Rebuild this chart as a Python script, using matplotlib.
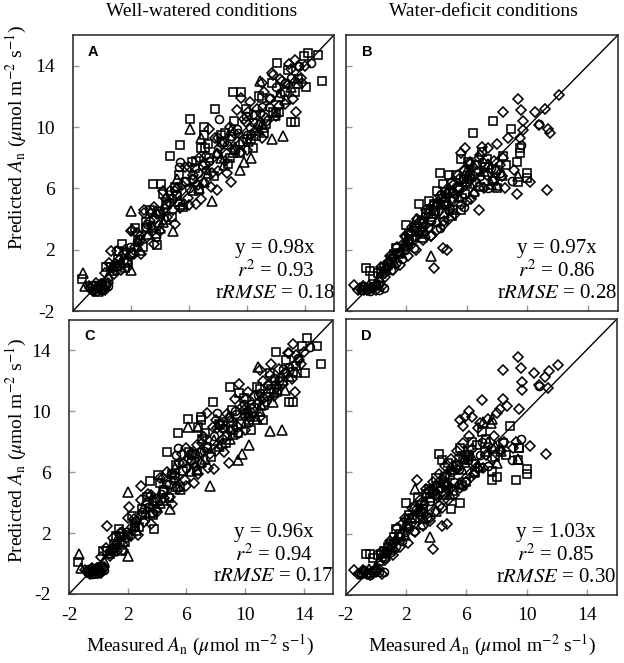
import matplotlib
matplotlib.use("Agg")
import matplotlib.pyplot as plt

plt.rcParams['font.family'] = ['Liberation Serif', 'DejaVu Serif']
plt.rcParams['mathtext.fontset'] = 'stix'
plt.rcParams['axes.unicode_minus'] = False

# ---- well-watered conditions (panels A and C share the measured values) ----
ww_sq_x = [12.1, 14.2, 14.9, 15.2, 9.0, 9.6, 7.8, 6.1, 7.0, 7.0, 6.8, 4.7, 3.5, 4.1, 13.3, 13.0, 14.1, -1.4, 0.3, 1.6,
           1.4, 5.4, 2.5, 3.0, 3.8, 4.5, 5.2, 5.8, 6.5, 7.4, 8.3, 9.2, 10.0, 10.6, 11.2, 11.8, 12.6, 13.5, 8.8, 2.0,
           0.8, -0.6, 10.4, 12.0, 1.1, 4.0,
           0.6, 1.2, 1.8, 2.3, 2.8, 3.3, 3.7, 4.2, 4.8, 5.3, 5.6, 6.2, 6.7, 7.1, 7.7, 8.2, 8.7, 9.1, 9.5, 9.9,
           10.3, 10.8, 11.3, 11.7, 12.2, 12.8, 13.3, 13.9, 3.0, 5.0, 7.3, 9.7, 11.0, 1.5, 4.4, 6.4, 8.5, 10.6, -0.2, 0.2]
ww_sq_a = [14.2, 14.8, 14.7, 13.0, 12.3, 12.3, 11.2, 10.5, 10.0, 9.5, 8.6, 8.1, 6.3, 6.3, 10.3, 10.3, 12.6, 0.1, 0.9, 0.8,
           2.4, 8.8, 2.6, 3.4, 2.3, 5.0, 5.5, 6.4, 7.8, 8.0, 9.0, 8.5, 9.2, 10.8, 9.6, 11.0, 12.3, 13.1, 8.0, 1.8,
           0.6, -0.4, 8.6, 10.9, 1.4, 4.3,
           0.9, 1.9, 1.2, 3.4, 2.2, 4.6, 3.0, 5.6, 4.1, 6.9, 4.8, 7.7, 5.9, 8.6, 6.8, 9.5, 7.6, 10.4, 8.3, 11.2,
           9.2, 12.0, 10.2, 12.9, 11.0, 13.7, 12.3, 14.6, 3.8, 6.1, 8.9, 9.0, 11.9, 1.1, 4.9, 7.3, 9.6, 9.4, -0.4, -0.2]
ww_sq_c = [13.9, 14.8, 14.3, 13.1, 11.6, 11.2, 10.6, 9.5, 9.6, 9.4, 9.0, 7.3, 5.4, 5.8, 10.6, 10.6, 12.5, 0.1, 0.8, 0.8,
           2.3, 8.6, 2.5, 3.2, 2.3, 4.8, 5.6, 6.1, 7.2, 7.6, 9.1, 8.8, 9.8, 10.2, 9.4, 11.5, 12.0, 13.0, 8.4, 1.9,
           0.6, -0.4, 8.8, 11.2, 1.3, 4.1,
           0.8, 1.8, 1.4, 3.1, 2.4, 4.4, 3.2, 5.3, 4.3, 6.5, 5.0, 7.3, 6.1, 8.2, 7.0, 9.2, 7.9, 10.1, 8.6, 10.9,
           9.4, 11.6, 10.4, 12.5, 11.3, 13.4, 12.6, 14.3, 3.6, 5.9, 8.6, 9.2, 11.5, 1.2, 4.7, 7.1, 9.3, 9.6, -0.4, -0.2]

ww_di_x = [8.9, 7.9, 6.8, 13.3, 13.4, 9.6, 11.7, 2.9, 0.6, 1.2, 11.0, 13.0, 7.4, 2.1, -0.8, -0.5, -0.2, 0.1, -0.4, 0.2,
           1.6, 2.6, 3.3, 3.9, 4.4, 4.9, 5.5, 5.9, 6.3, 6.6, 7.1, 7.6, 8.1, 8.5, 9.1, 9.5, 9.9, 10.3, 10.8, 11.3,
           11.6, 12.2, 12.8, 13.7, 14.0, 10.1, 8.0, 5.0, 3.6, 2.3, 6.0, 12.4, 0.9, 1.9,
           0.5, 0.8, 1.0, 1.3, 1.5, 1.7, 2.0, 2.2, 2.4, 2.7, 2.9, 3.1, 3.4, 3.6, 3.8, 4.0, 4.2, 4.5, 4.7, 5.0,
           5.2, 5.4, 5.7, 6.0, 6.2, 6.5, 6.7, 7.0, 7.2, 7.5, 7.8, 8.0, 8.3, 8.6, 8.8, 9.0, 9.3, 9.6, 9.8, 10.0,
           10.2, 10.5, 10.7, 11.0, 11.2, 11.4, 11.8, 12.0, 12.3, 12.6, 12.9, 13.2, 13.5, 13.8, -0.6, -0.3, 0.0, 0.2, -0.9, 0.4]
ww_di_a = [6.4, 5.9, 5.3, 14.4, 11.0, 11.9, 13.5, 4.6, 1.9, 1.3, 12.9, 13.8, 9.9, 3.3, -0.5, -0.6, -0.4, -0.5, -0.2, 0.5,
           2.0, 2.9, 3.9, 3.6, 5.3, 4.6, 6.2, 5.4, 6.9, 6.2, 7.6, 7.0, 8.6, 7.8, 9.6, 8.9, 10.3, 9.5, 10.1, 10.6,
           11.8, 11.4, 12.8, 13.2, 14.0, 11.0, 9.3, 5.8, 4.8, 2.2, 7.4, 13.0, 0.7, 1.6,
           1.1, 0.4, 1.9, 0.7, 1.8, 0.8, 3.2, 1.7, 3.1, 1.7, 4.4, 2.8, 4.4, 2.4, 4.3, 3.2, 5.8, 4.1, 5.8, 3.7,
           6.0, 4.7, 7.4, 4.9, 6.6, 5.0, 8.0, 6.4, 8.1, 6.1, 9.3, 7.1, 8.9, 7.0, 10.0, 8.5, 11.1, 8.4, 10.5, 8.5,
           11.6, 9.7, 11.2, 9.3, 12.3, 10.4, 13.4, 10.7, 13.1, 11.5, 14.1, 11.8, 14.0, 12.9, -0.7, -0.5, -0.3, -0.6, -0.4, -0.2]
ww_di_c = [6.6, 6.2, 5.9, 14.4, 11.3, 11.8, 12.4, 5.1, 2.5, 1.2, 12.7, 13.8, 9.9, 3.7, -0.5, -0.6, -0.4, -0.5, -0.3, 0.4,
           2.1, 2.8, 4.0, 3.5, 5.6, 4.4, 6.6, 5.5, 7.1, 6.4, 7.9, 7.2, 8.9, 8.2, 9.3, 9.0, 10.1, 9.6, 10.5, 10.9,
           11.7, 11.6, 12.6, 13.4, 13.9, 10.8, 9.4, 5.9, 4.5, 2.4, 7.6, 12.2, 0.8, 1.7,
           1.0, 0.5, 1.7, 0.8, 2.0, 0.9, 3.0, 1.8, 2.9, 1.9, 4.2, 2.7, 4.6, 2.6, 4.1, 3.4, 5.6, 4.3, 6.0, 3.9,
           5.8, 4.9, 7.2, 5.1, 6.9, 5.3, 7.8, 6.6, 8.3, 6.3, 9.0, 7.4, 9.1, 7.3, 9.8, 8.7, 10.8, 8.6, 10.3, 8.8,
           11.3, 9.9, 11.0, 9.6, 12.0, 10.6, 13.1, 11.0, 12.8, 11.8, 13.8, 12.1, 13.7, 13.1, -0.7, -0.5, -0.3, -0.6, -0.4, -0.2]

ww_tr_x = [-1.2, -1.3, 2.0, 2.0, 6.1, 7.6, 12.5, 9.5, 10.9, 6.8, 4.9, 11.7, 10.3, 9.8, 3.2, 4.2, 5.6, 7.0, 8.4, 1.3,
           0.4, -0.3, 2.6, 8.9, 12.2, 5.2, 3.7, 11.1, 13.0, 7.9,
           1.0, 1.7, 2.5, 3.5, 4.4, 5.3, 6.3, 7.3, 8.2, 9.2, 10.1, 11.0, 11.9, 12.7, 13.5, 0.0, 4.0, 6.7, 9.0, 10.8]
ww_tr_a = [-0.4, 0.5, 4.5, 0.7, 9.9, 5.2, 9.4, 7.2, 13.0, 9.3, 3.2, 9.2, 8.0, 7.7, 3.0, 3.8, 5.0, 6.4, 7.5, 1.2,
           0.3, -0.7, 2.0, 9.8, 12.0, 6.6, 4.5, 10.0, 12.6, 8.3,
           1.0, 1.4, 2.6, 3.5, 4.0, 5.2, 5.9, 7.0, 8.0, 8.7, 9.1, 10.2, 10.8, 11.8, 12.9, -0.3, 3.4, 6.0, 8.4, 9.8]
ww_tr_c = [-0.3, 0.6, 4.7, 0.5, 9.0, 5.1, 8.8, 6.8, 12.9, 9.0, 3.6, 8.7, 7.8, 7.2, 3.3, 4.0, 4.9, 6.7, 7.9, 1.6,
           0.2, -0.6, 2.2, 9.6, 11.5, 6.3, 4.2, 10.4, 12.3, 8.1,
           0.9, 1.5, 2.5, 3.4, 4.2, 5.1, 6.1, 6.9, 7.7, 8.5, 9.3, 10.0, 10.6, 11.4, 12.6, -0.3, 3.7, 6.2, 8.2, 9.5]

ww_ci_x = [-0.7, -0.3, 0.0, 0.3, -0.5, -0.1, 0.7, 1.5, 2.4, 3.1, 3.7, 4.3, 4.8, 5.3, 6.0, 8.1, 7.2, 8.6, 9.3, 10.2,
           10.9, 11.5, 12.6, 13.6, 5.4, 14.4,
           0.9, 1.9, 2.6, 3.4, 3.9, 4.6, 5.1, 5.7, 6.3, 6.9, 7.4, 7.9, 8.4, 8.9, 9.4, 9.9, 10.4, 11.0, 11.6, 12.3,
           13.0, -0.8, -0.4, -0.1, 0.1, 0.4, 3.0, 6.6, 10.0, 12.0]
ww_ci_a = [-0.6, -0.5, -0.6, -0.3, -0.3, -0.2, 0.8, 1.7, 2.5, 3.7, 2.8, 4.7, 5.4, 7.4, 6.0, 10.5, 7.2, 8.8, 9.9, 10.0,
           10.9, 11.3, 12.9, 14.0, 7.7, 14.2,
           1.1, 2.2, 2.7, 3.6, 4.5, 5.1, 5.6, 6.5, 6.6, 7.5, 7.8, 8.3, 9.0, 9.4, 9.6, 10.7, 10.3, 11.3, 11.9, 12.2,
           13.2, -0.5, -0.7, -0.4, -0.5, -0.4, 3.5, 7.0, 9.5, 12.6]
ww_ci_c = [-0.6, -0.5, -0.6, -0.3, -0.3, -0.2, 0.7, 1.8, 2.4, 3.6, 3.3, 4.6, 5.2, 7.1, 6.3, 9.9, 7.4, 8.9, 10.0, 9.9,
           11.1, 11.0, 12.8, 13.5, 7.6, 14.2,
           1.0, 2.1, 2.8, 3.7, 4.3, 5.2, 5.5, 6.6, 6.8, 7.3, 7.7, 8.4, 8.9, 9.6, 9.8, 10.5, 10.5, 11.2, 11.7, 12.0,
           12.9, -0.5, -0.7, -0.4, -0.5, -0.4, 3.4, 7.2, 9.7, 12.2]

# ---- water-deficit conditions (panels B and D share the measured values) ----
wd_sq_x = [7.7, 8.9, 6.4, 9.5, 9.5, 9.3, 10.0, 10.0, 9.4, 4.2, 4.8, 5.3, 4.4, 5.6, 2.8, 3.5, -0.7, 1.3, 2.0, 5.6,
           5.0, 7.7, 0.3, 0.8, 3.0, 3.9, 4.6, 6.0, 6.6, 7.2, -0.2, 1.6, 2.4, 7.0, 5.9,
           0.5, 1.0, 1.5, 2.1, 2.6, 3.1, 3.6, 4.1, 4.5, 4.9, 5.4, 5.8, 6.2, 6.7, 7.3, 7.9, 8.4, 8.0, 5.1, 3.3,
           2.2, 1.2, 0.1, -0.4, 6.9, 4.0, 3.8, 5.7, 8.6, 6.1]
wd_sq_b = [10.4, 9.9, 9.6, 8.6, 8.3, 7.75, 7.0, 6.7, 6.4, 7.0, 6.9, 6.9, 6.3, 7.9, 5.0, 5.2, 0.8, 2.1, 3.6, 4.6,
           4.2, 6.5, 0.6, 1.0, 3.2, 4.5, 5.4, 6.3, 7.1, 7.4, 0.3, 1.8, 2.6, 8.4, 5.6,
           0.8, 1.4, 1.7, 2.4, 3.2, 3.5, 4.1, 4.9, 5.1, 5.7, 6.0, 6.6, 6.9, 7.5, 7.9, 7.2, 8.1, 6.0, 4.6, 4.4,
           3.0, 1.7, 0.5, 0.6, 6.1, 5.8, 5.0, 5.4, 7.5, 7.7]
wd_sq_d = [6.1, 9.0, 8.0, 7.6, 7.6, 5.5, 5.9, 6.2, 6.8, 7.2, 6.6, 6.5, 6.8, 7.6, 4.4, 4.9, 0.7, 2.3, 4.0, 4.0,
           3.6, 5.5, 0.7, 1.1, 3.4, 4.6, 5.7, 5.4, 6.0, 7.3, 0.4, 2.0, 3.0, 8.6, 6.8,
           0.9, 1.3, 1.8, 2.5, 3.0, 3.6, 4.3, 5.0, 5.3, 5.8, 6.4, 6.9, 7.1, 7.8, 8.2, 7.0, 7.9, 5.7, 4.8, 4.6,
           3.2, 1.8, 0.6, 0.7, 6.3, 5.6, 4.7, 5.2, 7.1, 7.0]

wd_di_x = [12.1, 9.4, 8.4, 9.6, 10.5, 11.2, 9.7, 9.7, 11.4, 11.5, 10.8, 10.2, 11.3, 8.5, 6.8, 4.4, 4.7, 3.8, -1.5, -1.1,
           -0.8, -0.4, 0.0, 0.4, 7.0, 8.4, 8.2, 9.5, 6.2, 6.4, 5.9, 5.6, 5.8, 9.3, 2.7, 1.2, 2.2, 3.2, 4.1, 5.0,
           5.4, 6.3, 7.3, 7.8, 3.6, 4.5, 0.6, 1.8,
           0.3, 0.6, 0.9, 1.1, 1.4, 1.6, 1.9, 2.1, 2.4, 2.6, 2.9, 3.1, 3.3, 3.6, 3.8, 4.0, 4.2, 4.4, 4.6, 4.8,
           5.0, 5.2, 5.4, 5.6, 5.8, 6.0, 6.2, 6.5, 6.8, 7.1, 7.4, 7.7, 8.0, 8.3, 8.7, 9.1, -1.2, -0.9, -0.6, -0.3,
           0.0, 0.2, 3.0, 3.9, 4.7, 5.5, 6.4, 2.0, 1.3, 0.8, 5.1, 4.3, 3.5, 2.7, 6.9]
wd_di_b = [12.1, 11.8, 11.0, 11.1, 11.0, 11.2, 10.4, 9.8, 9.9, 9.6, 10.1, 6.4, 5.9, 6.0, 4.6, 2.1, 2.0, 0.8, -0.3, -0.5,
           -0.6, -0.5, -0.6, -0.4, 8.7, 8.0, 7.5, 9.3, 7.7, 7.4, 8.6, 8.3, 7.1, 5.6, 4.0, 1.5, 2.6, 3.6, 4.9, 5.2,
           6.1, 5.3, 6.9, 7.8, 2.9, 3.9, 0.5, 2.4,
           0.9, 0.2, 1.6, 0.7, 2.2, 1.0, 2.9, 1.6, 3.5, 2.0, 3.9, 2.6, 4.6, 2.9, 5.0, 3.3, 5.5, 3.6, 5.9, 4.0,
           6.4, 4.3, 6.9, 4.9, 7.2, 5.2, 7.6, 5.6, 8.0, 6.0, 8.6, 6.5, 8.9, 6.8, 9.3, 7.2, -0.6, -0.4, -0.6, -0.5,
           -0.4, -0.3, 3.9, 4.8, 5.6, 6.6, 6.9, 2.8, 1.7, 1.2, 6.2, 5.3, 4.6, 3.4, 8.2]
wd_di_d = [13.0, 13.5, 12.7, 12.8, 12.5, 12.2, 11.4, 11.9, 11.5, 12.6, 11.7, 7.7, 7.2, 8.0, 6.3, 2.5, 2.6, 1.0, -0.4, -0.6,
           -0.5, -0.7, -0.5, -0.6, 10.7, 10.8, 10.15, 10.1, 10.0, 9.6, 9.6, 9.4, 9.0, 8.0, 5.5, 1.4, 2.4, 3.3, 4.4, 5.0,
           6.2, 5.7, 7.1, 8.4, 2.8, 4.2, 0.4, 2.7,
           0.8, 0.3, 1.5, 0.6, 2.4, 1.1, 3.0, 1.4, 3.7, 2.1, 4.2, 2.5, 4.9, 3.0, 5.4, 3.5, 5.9, 3.7, 6.4, 4.2,
           6.9, 4.5, 7.4, 5.0, 7.9, 5.4, 8.4, 5.9, 8.9, 6.3, 9.5, 6.9, 9.9, 7.4, 10.3, 7.6, -0.6, -0.4, -0.6, -0.5,
           -0.4, -0.3, 4.0, 5.1, 5.9, 7.0, 7.5, 2.9, 1.6, 1.1, 6.4, 5.5, 4.8, 3.6, 9.2]

wd_tr_x = [9.4, 3.6, 2.6, 7.7, 7.6, 7.1, 0.9, 1.9, 3.0, 4.0, 4.9, 5.7, 6.5, 8.0, -0.9, 0.2, 2.3, 3.4, 4.7, 6.0,
           0.6, 1.2, 1.6, 2.0, 2.8, 3.2, 3.8, 4.3, 5.1, 5.5, 6.3, 6.8, 7.4, 8.3, -0.5, 0.0, 2.5, 4.5, 5.9, 7.9]
wd_tr_b = [6.8, 1.6, 4.0, 6.7, 6.3, 7.1, 1.3, 2.3, 2.8, 3.9, 4.9, 6.5, 5.8, 6.2, -0.4, 0.2, 3.3, 4.4, 5.8, 7.2,
           0.9, 1.2, 1.9, 2.6, 3.3, 3.1, 4.6, 5.1, 5.9, 5.5, 6.8, 6.2, 7.6, 6.9, -0.3, -0.2, 3.5, 4.4, 6.5, 7.3]
wd_tr_d = [6.9, 1.8, 4.9, 9.5, 9.2, 9.3, 1.0, 1.9, 2.6, 3.5, 4.6, 6.2, 6.0, 6.6, -0.5, 0.3, 3.0, 4.7, 5.3, 7.4,
           0.8, 1.1, 2.0, 2.7, 3.5, 3.0, 4.9, 5.4, 6.2, 5.3, 7.1, 6.4, 8.0, 7.4, -0.3, -0.2, 3.8, 4.6, 6.7, 7.7]

wd_ci_x = [3.2, -0.6, -0.2, 0.2, 1.0, 1.7, 2.5, 3.4, 4.2, 4.8, 5.2, 5.8, 6.6, 7.4, 10.8, 9.6, 2.8, 4.3,
           0.4, 0.7, 1.3, 1.9, 2.2, 2.9, 3.6, 3.9, 4.5, 5.0, 5.5, 6.1, 6.9, 7.6, 8.2, -1.0, -0.8, -0.4, 0.0, 0.5,
           3.1, 4.6, 5.9, 7.0, 9.0]
wd_ci_b = [4.2, -0.6, -0.4, -0.6, 0.7, 1.4, 2.1, 3.5, 3.4, 4.5, 5.6, 4.8, 6.4, 6.0, 10.2, 8.8, 3.1, 5.6,
           0.4, 0.9, 1.1, 2.0, 2.5, 3.3, 3.9, 4.6, 5.0, 5.8, 6.0, 6.6, 6.8, 7.3, 7.0, -0.6, -0.4, -0.7, -0.3, -0.5,
           3.8, 4.9, 6.9, 7.7, 6.5]
wd_ci_d = [4.0, -0.6, -0.4, -0.5, 0.8, 1.5, 2.2, 3.1, 3.9, 4.9, 5.4, 5.1, 6.6, 6.4, 11.6, 8.2, 3.4, 5.0,
           0.5, 0.8, 1.2, 2.1, 2.4, 3.2, 4.1, 4.5, 5.2, 6.0, 6.2, 6.8, 7.1, 7.6, 7.5, -0.6, -0.4, -0.7, -0.3, -0.5,
           3.7, 5.1, 7.2, 8.0, 6.8]

letters = ['A', 'B', 'C', 'D']
slopes = ['0.98', '0.97', '0.96', '1.03']
r2_vals = ['0.93', '0.86', '0.94', '0.85']
rrmse_vals = ['0.18', '0.28', '0.17', '0.30']
ticks = [-2, 2, 6, 10, 14]

fig = plt.figure(figsize=(6.24, 6.63), dpi=100)
W, H = 624, 663
boxes = [(73, 35, 261, 276), (346, 35, 272, 276), (69, 320, 264, 274), (346, 319, 271, 276)]

panels = [
    (ww_sq_x, ww_sq_a, ww_di_x, ww_di_a, ww_tr_x, ww_tr_a, ww_ci_x, ww_ci_a),
    (wd_sq_x, wd_sq_b, wd_di_x, wd_di_b, wd_tr_x, wd_tr_b, wd_ci_x, wd_ci_b),
    (ww_sq_x, ww_sq_c, ww_di_x, ww_di_c, ww_tr_x, ww_tr_c, ww_ci_x, ww_ci_c),
    (wd_sq_x, wd_sq_d, wd_di_x, wd_di_d, wd_tr_x, wd_tr_d, wd_ci_x, wd_ci_d),
]

for i, (l, t, w, h) in enumerate(boxes):
    ax = fig.add_axes([l / W, 1 - (t + h) / H, w / W, h / H])
    sx, sy, dx, dy, tx, ty, cx, cy = panels[i]
    kw = dict(ls='none', mfc='none', mec='black', mew=1.15)
    ax.plot(sx, sy, marker='s', ms=6, **kw)
    ax.plot(dx, dy, marker='D', ms=4.6, **kw)
    ax.plot(tx, ty, marker='^', ms=6.5, **kw)
    ax.plot(cx, cy, marker='o', ms=5.8, **kw)
    ax.plot([-2, 16], [-2, 16], color='black', lw=1)
    ax.set_xlim(-2, 16)
    ax.set_ylim(-2, 16)
    ax.set_xticks(ticks)
    ax.set_yticks(ticks)
    ax.tick_params(direction='in', length=4, width=1, color='0.6', labelsize=14)
    ax.tick_params(axis='x', pad=9)
    ax.tick_params(axis='y', pad=13)
    if i < 2:
        ax.set_xticklabels([])
    if i % 2 == 1:
        ax.set_yticklabels([])
    for sp in ax.spines.values():
        sp.set_linewidth(1.1)
        sp.set_color('#222222')
    ax.text(0.057, 0.94, letters[i], transform=ax.transAxes, family='Liberation Sans',
            fontweight='bold', fontsize=10.5, ha='left', va='center')
    ax.text(0.775, 0.225, 'y = ' + slopes[i] + 'x', transform=ax.transAxes,
            fontsize=15, ha='center', va='center')
    ax.text(0.775, 0.143, r'$r^{2}$ = ' + r2_vals[i], transform=ax.transAxes,
            fontsize=15, ha='center', va='center')
    ax.text(0.775, 0.063, r'r$RMSE$ = ' + rrmse_vals[i], transform=ax.transAxes,
            fontsize=15, ha='center', va='center')

fig.text(202 / W, 1 - 12 / H, 'Well-watered conditions', fontsize=14, ha='center', va='center')
fig.text(483 / W, 1 - 12 / H, 'Water-deficit conditions', fontsize=14, ha='center', va='center')

ylab = r'Predicted $A_{\mathrm{n}}$ ($\mu$mol m$^{-2}$ s$^{-1}$)'
xlab = r'Measured $A_{\mathrm{n}}$ ($\mu$mol m$^{-2}$ s$^{-1}$)'
fig.text(16 / W, 1 - 137 / H, ylab, fontsize=14, rotation=90, ha='center', va='center')
fig.text(16 / W, 1 - 450 / H, ylab, fontsize=14, rotation=90, ha='center', va='center')
fig.text(200 / W, 1 - 645 / H, xlab, fontsize=14, ha='center', va='center')
fig.text(482 / W, 1 - 645 / H, xlab, fontsize=14, ha='center', va='center')

fig.savefig('out.png', dpi=100)
